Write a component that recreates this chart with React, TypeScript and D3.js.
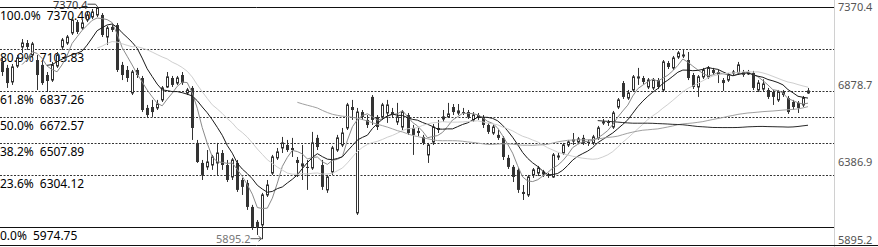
import React from 'react';
import * as d3 from 'd3';

const opens = [
  7020, 6982, 6893, 6994, 7115, 7140, 7064, 7032, 7001, 6937,
  6905, 6994, 7115, 7140, 7204, 7273, 7235, 7286, 7305, 7318,
  7318, 7178, 7242, 7254, 7001, 6969, 6823, 6969, 6918, 6728,
  6734, 6728, 6779, 6861, 6918, 6886, 6937, 6823, 6855, 6506,
  6379, 6354, 6366, 6379, 6442, 6366, 6290, 6379, 6271, 6252,
  6100, 6005, 5986, 6176, 6315, 6411, 6474, 6493, 6474, 6398,
  6360, 6354, 6347, 6538, 6366, 6208, 6322, 6461, 6493, 6601,
  6734, 6062, 6702, 6652, 6798, 6671, 6671, 6696, 6702, 6639,
  6607, 6683, 6601, 6582, 6544, 6430, 6512, 6601, 6658, 6671,
  6734, 6696, 6702, 6702, 6652, 6683, 6664, 6620, 6569, 6557,
  6538, 6411, 6354, 6335, 6195, 6176, 6303, 6315, 6309, 6303,
  6290, 6417, 6442, 6493, 6518, 6512, 6538, 6512, 6506, 6538,
  6633, 6639, 6607, 6734, 6886, 6791, 6842, 6918, 6918, 6861,
  6855, 6905, 6842, 7013, 6982, 7051, 7058, 7032, 6937, 6861,
  6925, 6925, 6969, 6956, 6905, 6905, 6950, 6950, 6956, 6950,
  6950, 6842, 6848, 6842, 6829, 6779, 6829, 6791, 6766, 6760,
  6747, 6823,
];
const highs = [
  7045, 7001, 7007, 7064, 7165, 7159, 7147, 7064, 7020, 6956,
  7020, 7083, 7172, 7191, 7305, 7286, 7286, 7337, 7356, 7370.4,
  7330, 7248, 7254, 7267, 7020, 6994, 6969, 6982, 6931, 6747,
  6779, 6779, 6867, 6956, 6931, 6931, 6956, 6855, 6867, 6525,
  6398, 6461, 6430, 6506, 6461, 6398, 6411, 6398, 6284, 6271,
  6113, 6017, 6189, 6271, 6430, 6474, 6544, 6525, 6538, 6417,
  6493, 6398, 6576, 6557, 6398, 6303, 6487, 6557, 6601, 6760,
  6779, 6728, 6715, 6683, 6810, 6683, 6760, 6779, 6728, 6760,
  6715, 6696, 6620, 6601, 6557, 6506, 6626, 6652, 6715, 6760,
  6753, 6753, 6728, 6715, 6702, 6696, 6683, 6633, 6620, 6588,
  6550, 6430, 6366, 6347, 6239, 6303, 6347, 6360, 6335, 6315,
  6442, 6442, 6506, 6525, 6569, 6544, 6557, 6525, 6557, 6614,
  6658, 6652, 6709, 6791, 6899, 6842, 6937, 6982, 6931, 6918,
  6918, 6918, 7032, 7026, 7058, 7089, 7096, 7083, 6950, 6937,
  6982, 6994, 6982, 6969, 6918, 6950, 6969, 7020, 6969, 6969,
  6963, 6905, 6910, 6855, 6842, 6842, 6842, 6804, 6779, 6772,
  6804, 6855,
];
const lows = [
  6931, 6855, 6874, 6982, 7077, 7096, 7045, 6842, 6874, 6829,
  6893, 6982, 7096, 7128, 7191, 7197, 7223, 7273, 7292, 7305,
  7178, 7128, 7210, 6956, 6905, 6893, 6810, 6918, 6702, 6664,
  6671, 6715, 6766, 6855, 6861, 6874, 6874, 6810, 6525, 6379,
  6271, 6335, 6335, 6303, 6335, 6258, 6271, 6195, 6176, 6081,
  5954, 5922, 5895.2, 6163, 6303, 6398, 6442, 6449, 6417, 6290,
  6271, 6208, 6335, 6461, 6208, 6189, 6303, 6449, 6480, 6588,
  6652, 6049, 6652, 6601, 6620, 6588, 6652, 6633, 6664, 6620,
  6588, 6557, 6430, 6550, 6493, 6379, 6493, 6569, 6639, 6664,
  6683, 6683, 6683, 6658, 6639, 6652, 6601, 6563, 6557, 6525,
  6398, 6341, 6258, 6189, 6144, 6163, 6284, 6296, 6290, 6284,
  6284, 6398, 6430, 6480, 6493, 6499, 6493, 6487, 6493, 6525,
  6620, 6614, 6595, 6721, 6785, 6779, 6829, 6874, 6880, 6848,
  6842, 6848, 6829, 6975, 6969, 7039, 7045, 6905, 6848, 6798,
  6912, 6912, 6937, 6886, 6836, 6893, 6937, 6937, 6925, 6937,
  6842, 6829, 6835, 6785, 6747, 6766, 6798, 6690, 6715, 6696,
  6734, 6817,
];
const closes = [
  6956, 6886, 6988, 7045, 7140, 7115, 7134, 6937, 6886, 6899,
  7001, 7064, 7159, 7178, 7286, 7210, 7267, 7318, 7337, 7362,
  7191, 7235, 7223, 6969, 6937, 6918, 6956, 6937, 6715, 6683,
  6702, 6753, 6855, 6925, 6874, 6918, 6886, 6842, 6601, 6385,
  6303, 6385, 6417, 6442, 6366, 6271, 6398, 6208, 6227, 6100,
  5973, 5973, 6176, 6239, 6417, 6449, 6506, 6461, 6461, 6379,
  6373, 6347, 6506, 6480, 6227, 6290, 6474, 6538, 6569, 6747,
  6715, 6702, 6671, 6620, 6652, 6607, 6747, 6747, 6683, 6671,
  6702, 6569, 6557, 6569, 6506, 6493, 6607, 6588, 6671, 6690,
  6702, 6709, 6696, 6671, 6683, 6664, 6620, 6576, 6607, 6538,
  6417, 6354, 6290, 6208, 6182, 6290, 6335, 6347, 6322, 6296,
  6430, 6423, 6493, 6512, 6525, 6531, 6506, 6506, 6544, 6601,
  6639, 6633, 6696, 6779, 6798, 6823, 6925, 6925, 6893, 6905,
  6905, 6861, 7020, 6988, 7045, 7077, 7064, 6918, 6861, 6925,
  6969, 6982, 6950, 6937, 6886, 6937, 6956, 7001, 6937, 6950,
  6855, 6886, 6880, 6798, 6798, 6829, 6810, 6702, 6734, 6728,
  6791, 6836,
];

const fibPcts = ['100.0%', '80.9%', '61.8%', '50.0%', '38.2%', '23.6%', '0.0%'];
const fibValues = [7370.4, 7103.83, 6837.26, 6672.57, 6507.89, 6304.12, 5974.75];
const fibLabels = ['7370.40', '7103.83', '6837.26', '6672.57', '6507.89', '6304.12', '5974.75'];
const axisTicks = [7370.4, 6878.7, 6386.9, 5895.2];
const maPeriods = [5, 10, 20, 60, 120];
const maColors = ['#8a8a8a', '#1a1a1a', '#cfcfcf', '#a0a0a0', '#2a2a2a'];

export default function App() {
  const W = 878;
  const H = 247;
  const n = closes.length;
  const y = d3.scaleLinear().domain([5895.2, 7370.4]).range([239.2, 6.7]);
  const x = d3.scaleLinear().domain([0, n - 1]).range([2, 808]);
  const plotRight = 834;
  const font = "'Noto Sans', 'DejaVu Sans', sans-serif";

  const maSeries = maPeriods.map((p) =>
    closes.map((_, i) => (i >= p - 1 ? d3.mean(closes.slice(i - p + 1, i + 1)) as number : null))
  );
  const lineGen = d3
    .line<number | null>()
    .defined((d) => d !== null)
    .x((_, i) => x(i))
    .y((d) => y(d as number));

  const hiIdx = d3.maxIndex(highs);
  const loIdx = d3.minIndex(lows);
  const hx = Math.round(x(hiIdx)) + 0.5;
  const hy = y(highs[hiIdx]);
  const lx = Math.round(x(loIdx)) + 0.5;
  const ly = y(lows[loIdx]);

  return (
    <svg
      width={W}
      height={H}
      style={{ position: 'fixed', left: 0, top: 0, background: '#fff' }}
      fontFamily={font}
    >
      {/* fib lines */}
      {fibValues.map((v, i) => {
        const yy = Math.round(y(v)) + 0.5;
        const solid = i === 0 || i === fibValues.length - 1;
        return (
          <line
            key={'f' + i}
            x1={0}
            x2={plotRight}
            y1={yy}
            y2={yy}
            stroke={solid ? '#111' : '#333'}
            strokeWidth={1}
            strokeDasharray={solid ? undefined : '2,1.5'}
          />
        );
      })}
      {fibValues.map((v, i) => (
        <text
          key={'fl' + i}
          x={0}
          y={y(v) + 8.5}
          dominantBaseline="central"
          fontSize={12}
          fill="#000"
        >
          {fibPcts[i]}
          <tspan dx={6}>{fibLabels[i]}</tspan>
        </text>
      ))}
      {/* right axis */}
      <line x1={plotRight + 0.5} x2={plotRight + 0.5} y1={0} y2={H} stroke="#d0d0d0" />
      {axisTicks.map((t, i) => (
        <text
          key={'t' + i}
          x={838}
          y={y(t)}
          dominantBaseline="central"
          fontSize={11}
          fill="#555"
        >
          {t.toFixed(1)}
        </text>
      ))}
      {/* candles */}
      {closes.map((c, i) => {
        const o = opens[i];
        const cx = Math.round(x(i));
        const up = c >= o;
        const top = y(Math.max(o, c));
        const bot = y(Math.min(o, c));
        const h = Math.max(1, bot - top);
        return (
          <g key={'c' + i}>
            <line
              x1={cx + 0.5}
              x2={cx + 0.5}
              y1={y(highs[i])}
              y2={y(lows[i])}
              stroke="#333"
              strokeWidth={1}
            />
            {up ? (
              <rect x={cx - 1 + 0.5} y={top} width={2} height={h} fill="#fff" stroke="#333" strokeWidth={1} />
            ) : (
              <rect x={cx - 1} y={top} width={3} height={h} fill="#333" />
            )}
          </g>
        );
      })}
      {/* moving averages */}
      {maSeries.map((s, k) => (
        <path key={'ma' + k} d={lineGen(s) || ''} fill="none" stroke={maColors[k]} strokeWidth={1} />
      ))}
      {/* high annotation */}
      <text x={hx - 10} y={hy - 2.5} textAnchor="end" dominantBaseline="central" fontSize={11} fill="#333">
        {highs[hiIdx].toFixed(1)}
      </text>
      <path d={`M${hx - 10},${hy - 2.5}H${hx - 2}L${hx},${hy}`} fill="none" stroke="#444" strokeWidth={1} />
      {/* low annotation */}
      <text x={lx - 12} y={ly - 1} textAnchor="end" dominantBaseline="central" fontSize={11} fill="#777">
        {lows[loIdx].toFixed(1)}
      </text>
      <path d={`M${lx - 12},${ly - 0.5}H${lx - 1}`} fill="none" stroke="#555" strokeWidth={1} />
      <path d={`M${lx - 4},${ly - 3}L${lx - 1},${ly - 0.5}L${lx - 4},${ly + 2}`} fill="none" stroke="#555" strokeWidth={1} />
      {/* bottom line */}
      <line x1={0} x2={W} y1={245.5} y2={245.5} stroke="#111" strokeWidth={1} />
    </svg>
  );
}
